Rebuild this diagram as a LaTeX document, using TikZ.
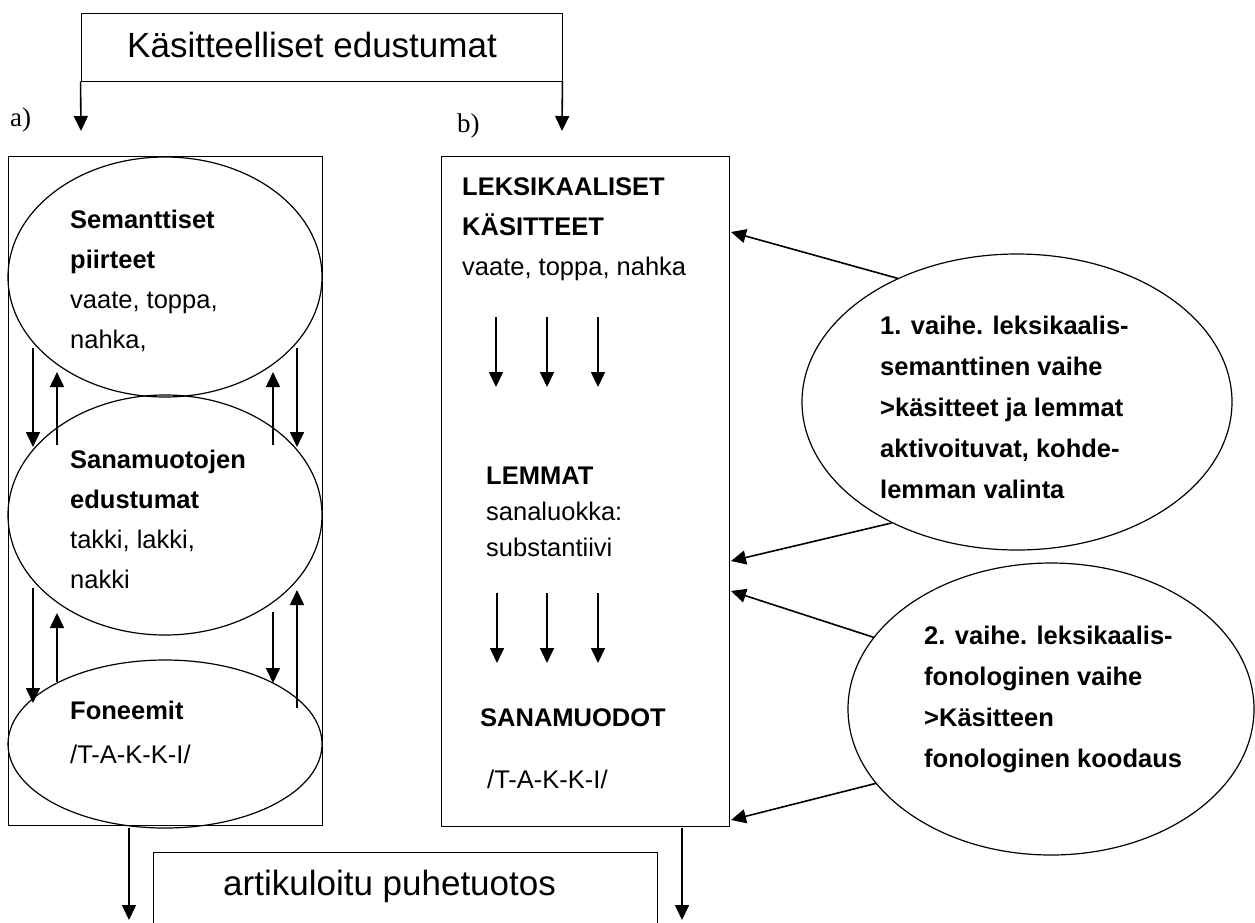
\documentclass[tikz,border=0pt]{standalone}
\usepackage{fontspec}
\setmainfont{Liberation Sans}
\newfontfamily\labfont{Liberation Serif}
\usepackage{tikz}
\usetikzlibrary{arrows.meta}
\usetikzlibrary{shapes.geometric}

\begin{document}
\begin{tikzpicture}[x=1pt,y=-1pt,
    >={Triangle[width=14pt,length=15pt]},
    box/.style={draw,rectangle,inner sep=0pt,line width=0.9pt},
    oval/.style={draw,ellipse,inner sep=0pt,line width=1.2pt},
    txt/.style={inner sep=0pt,align=left,anchor=north west,font=\fontsize{25.5}{40}\selectfont},
    big/.style={inner sep=0pt,anchor=base west,font=\fontsize{35}{42}\selectfont},
    lab/.style={inner sep=0pt,anchor=base west,font=\labfont\fontsize{27}{30}\selectfont},
    flow/.style={->,line width=1.6pt}]
                \useasboundingbox (0,0) rectangle (1255,922);
                \clip (0,0) rectangle (1255,922);

                % top and bottom boxes
                \node[box,minimum width=481pt,minimum height=68pt] (concept) at (321.5,47) {};
                \node[big] (conceptText) at (127,57) {Käsitteelliset edustumat};
                \node[box,minimum width=504pt,minimum height=108pt] (output) at (405,906) {};
                \node[big] (outputText) at (223,895) {artikuloitu puhetuotos};

                \node[lab] (labA) at (10,126) {a)};
                \node[lab] (labB) at (457,132) {b)};

                % a) column
                \node[box,minimum width=314pt,minimum height=669pt] (leftBox) at (165,490.5) {};
                \node[oval,minimum width=314pt,minimum height=240pt] (semEll) at (165,277) {};
                \node[oval,minimum width=314pt,minimum height=240pt] (wordEll) at (165,515) {};
                \node[oval,minimum width=314pt,minimum height=168pt] (phonEll) at (165,744) {};
                \node[txt] (semText) at (70,210) {\textbf{Semanttiset}\\\textbf{piirteet}\\vaate, toppa,\\nahka,};
                \node[txt] (wordText) at (70,450) {\textbf{Sanamuotojen}\\\textbf{edustumat}\\takki, lakki,\\nakki};
                \node[txt] (phonText) at (70,701) {\textbf{Foneemit}\\[4pt]/T-A-K-K-I/};

                % b) column
                \node[box,minimum width=288pt,minimum height=670pt] (lexBox) at (585,491) {};
                \node[txt] (lexText) at (462,177) {\textbf{LEKSIKAALISET}\\\textbf{KÄSITTEET}\\vaate, toppa, nahka};
                \node[txt,font=\fontsize{25.5}{36}\selectfont] (lemText) at (486,467) {\textbf{LEMMAT}\\sanaluokka:\\substantiivi};
                \node[txt,anchor=base west] (formText) at (480,726) {\textbf{SANAMUODOT}};
                \node[txt,anchor=base west] (formPh) at (487,788) {/T-A-K-K-I/};

                % phases
                \node[oval,minimum width=430pt,minimum height=296pt] (phase1) at (1017,402) {};
                \node[oval,minimum width=406pt,minimum height=292pt] (phase2) at (1051,709) {};
                \node[txt,font=\bfseries\fontsize{25.5}{41}\selectfont] (phase1Text) at (880,316)
                    {1. vaihe. leksikaalis-\\semanttinen vaihe\\>käsitteet ja lemmat\\aktivoituvat, kohde-\\lemman valinta};
                \node[txt,font=\bfseries\fontsize{25.5}{41}\selectfont] (phase2Text) at (924,626)
                    {2. vaihe. leksikaalis-\\fonologinen vaihe\\>Käsitteen\\fonologinen koodaus};

                % arrows
                \coordinate (inA) at (81,131);
                \coordinate (inB) at (562,131);
                \draw[flow] (concept.south west) -- (inA);
                \draw[flow] (concept.south east) -- (inB);

                \foreach \x/\ya/\yb [count=\i] in {33/348/447, 57/445/372, 273/445/372, 297/348/447,
                        33/588/703, 57/682/613, 273/612/683, 297/708/590,
                        496/317/387, 547/317/387, 598/317/387,
                        497/593/663, 547/593/663, 598/593/663,
                        129/828/920, 682/828/920} {
                    \coordinate (s\i) at (\x,\ya);
                    \coordinate (e\i) at (\x,\yb);
                    \draw[flow] (s\i) -- (e\i);
                }

                \coordinate (t1) at (731,232);
                \coordinate (t2) at (731,561);
                \coordinate (t3) at (731,591);
                \coordinate (t4) at (731,820);
                \draw[flow] (phase1.134) -- (t1);
                \draw[flow] (phase1.224) -- (t2);
                \draw[flow] (phase2.158) -- (t3);
                \draw[flow] (phase2.203) -- (t4);
\end{tikzpicture}
\end{document}
